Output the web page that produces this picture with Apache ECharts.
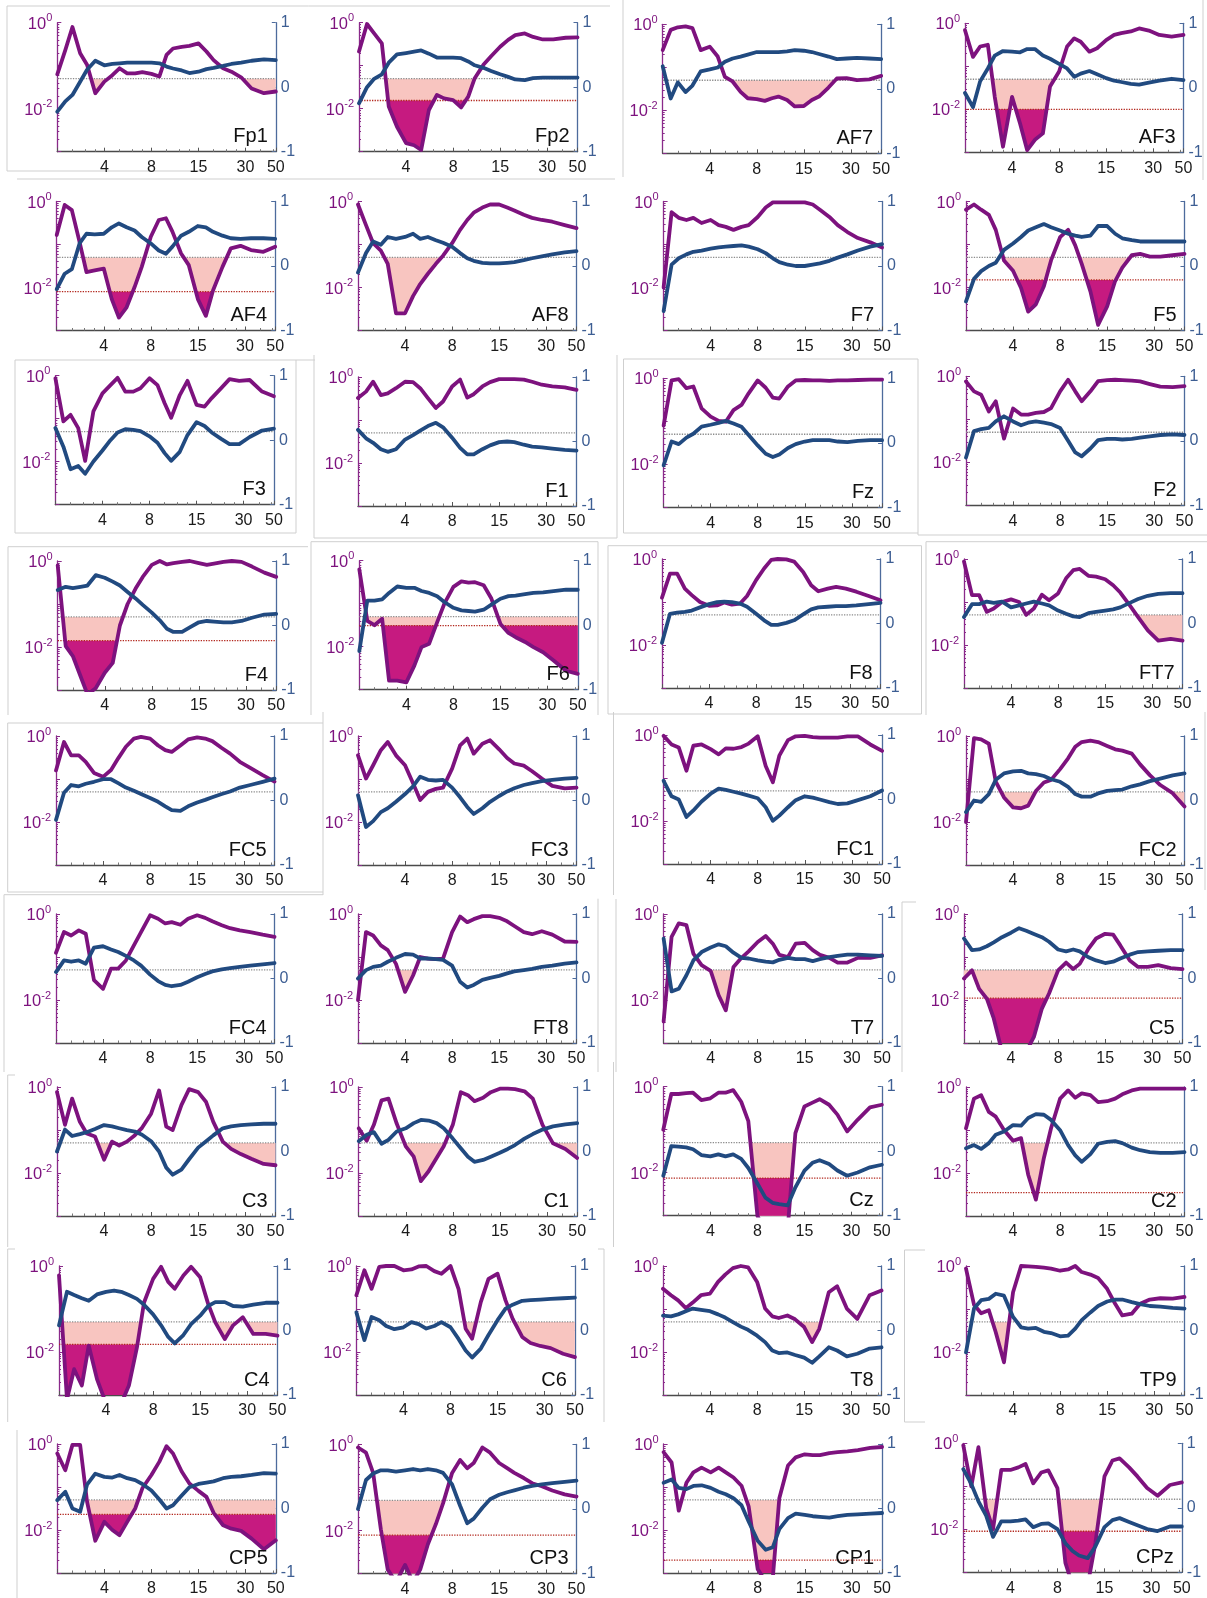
<!DOCTYPE html>
<html><head><meta charset="utf-8">
<script src="https://cdn.jsdelivr.net/npm/echarts@6/dist/echarts.min.js"></script>
<style>html,body{margin:0;padding:0;background:#fff}#c{width:1207px;height:1598px}</style>
</head><body><div id="c"></div>
<script>
// ---------------- DATA ----------------
const freqHz = [2,2.25,2.5,2.8,3.1,3.5,4,4.5,5,5.6,6.3,7,8,9,10,11,12.5,14,16,18,20,23,26,30,35,42,50];
const xTickLabels = {4:'4', 8:'8', 16:'15', 32:'30', 50:'50'};
const channels = ['Fp1','Fp2','AF7','AF3','AF4','AF8','F7','F5','F3','F1','Fz','F2','F4','F6','F8','FT7',
  'FC5','FC3','FC1','FC2','FC4','FT8','T7','C5','C3','C1','Cz','C2','C4','C6','T8','TP9','CP5','CP3','CP1','CPz'];
const sigP = 0.05;
// corrected thresholds (red dotted), null where none
const fdrP = [null,0.0155,null,0.01, 0.008,null,null,0.015, null,null,null,null, 0.014,0.031,null,null,
  null,null,null,null, null,null,null,0.011, null,null,0.0075,0.0035, 0.015,null,null,null, 0.023,0.0078,0.002,0.009];
// frequency band where significant regions are shaded (null = no shading)
const shadeBand = [[2,50],[2,50],[2,50],[2,50], [2,50],[2,50],null,[2,50], null,[2,50],[2,50],null, [2,50],[2,50],[2,50],[15,50],
  [2,50],null,[2,50],[2.5,50], null,[2.5,50],[2.5,50],[2,50], [2,50],[3,50],[2,50],[2,50], [2,50],[2,50],[2,50],[2,50], [2,50],[2,50],[2,50],[2,50]];

// log10(p) per channel (purple) and correlation r (blue)
const lp_Fp1 = [-1.2,-0.64,-0.1,-0.71,-0.98,-1.64,-1.37,-1.22,-1.06,-1.18,-1.18,-1.15,-1.19,-1.25,-0.75,-0.6,-0.56,-0.54,-0.48,-0.67,-0.87,-1.06,-1.14,-1.27,-1.53,-1.64,-1.6];
const r_Fp1  = [-0.38,-0.22,-0.12,0.085,0.27,0.41,0.34,0.36,0.37,0.38,0.38,0.38,0.38,0.37,0.32,0.29,0.26,0.22,0.24,0.28,0.3,0.33,0.36,0.38,0.41,0.43,0.42];
const lp_Fp2 = [-0.67,-0.03,-0.25,-0.48,-1.95,-2.42,-2.8,-2.85,-2.96,-2.03,-1.68,-1.76,-1.8,-1.97,-1.72,-1.29,-0.98,-0.78,-0.56,-0.4,-0.29,-0.25,-0.33,-0.39,-0.39,-0.35,-0.34];
const r_Fp2  = [-0.25,0.0,0.13,0.2,0.38,0.51,0.53,0.55,0.57,0.52,0.46,0.46,0.46,0.45,0.4,0.34,0.3,0.25,0.2,0.16,0.12,0.11,0.14,0.15,0.15,0.15,0.15];
const lp_AF7 = [-0.6,-0.13,-0.07,-0.05,-0.09,-0.6,-0.52,-0.75,-1.22,-1.33,-1.57,-1.72,-1.74,-1.78,-1.72,-1.68,-1.76,-1.91,-1.9,-1.76,-1.68,-1.47,-1.26,-1.25,-1.3,-1.28,-1.2];
const r_AF7  = [0.35,-0.15,0.1,-0.05,0.05,0.27,0.3,0.33,0.42,0.47,0.5,0.53,0.57,0.57,0.57,0.57,0.58,0.6,0.59,0.57,0.54,0.5,0.46,0.47,0.48,0.47,0.46];
const lp_AF3 = [-0.16,-0.78,-0.54,-0.5,-1.71,-2.87,-1.71,-2.33,-2.95,-2.71,-2.56,-1.47,-1.12,-0.54,-0.35,-0.43,-0.66,-0.58,-0.39,-0.27,-0.23,-0.19,-0.12,-0.17,-0.27,-0.31,-0.27];
const r_AF3  = [-0.08,-0.3,0.1,0.3,0.5,0.57,0.56,0.55,0.6,0.6,0.5,0.45,0.37,0.3,0.17,0.22,0.26,0.21,0.15,0.11,0.09,0.06,0.05,0.08,0.11,0.14,0.12];
const lp_AF4 = [-0.78,-0.08,-0.2,-0.94,-1.64,-1.6,-1.56,-2.27,-2.7,-2.46,-1.99,-1.52,-0.82,-0.43,-0.39,-0.7,-1.21,-1.48,-2.27,-2.66,-2.07,-1.52,-1.09,-1.03,-1.13,-1.17,-1.05];
const r_AF4  = [-0.36,-0.12,-0.05,0.35,0.5,0.49,0.5,0.6,0.66,0.6,0.55,0.45,0.35,0.24,0.19,0.3,0.47,0.53,0.62,0.6,0.53,0.47,0.43,0.42,0.43,0.43,0.42];
const lp_AF8 = [-0.07,-0.55,-0.97,-1.14,-1.45,-2.6,-2.6,-2.2,-1.92,-1.68,-1.45,-1.26,-0.97,-0.66,-0.43,-0.26,-0.14,-0.07,-0.07,-0.14,-0.21,-0.31,-0.38,-0.43,-0.47,-0.55,-0.62];
const r_AF8  = [-0.1,0.2,0.38,0.33,0.45,0.42,0.45,0.5,0.42,0.45,0.4,0.36,0.3,0.2,0.12,0.08,0.05,0.04,0.04,0.05,0.06,0.09,0.12,0.15,0.18,0.21,0.23];
const lp_F7  = [-2.0,-0.25,-0.38,-0.43,-0.38,-0.5,-0.43,-0.55,-0.59,-0.66,-0.59,-0.55,-0.36,-0.14,-0.02,-0.02,-0.02,-0.02,-0.02,-0.07,-0.19,-0.36,-0.55,-0.71,-0.85,-0.95,-1.07];
const r_F7   = [-0.7,0.02,0.12,0.18,0.22,0.24,0.27,0.29,0.3,0.31,0.32,0.3,0.26,0.2,0.12,0.06,0.02,0.0,0.0,0.02,0.04,0.08,0.13,0.18,0.24,0.3,0.34];
const lp_F5  = [-0.19,-0.07,-0.19,-0.31,-0.66,-1.37,-1.61,-2.01,-2.56,-2.39,-1.97,-1.37,-0.83,-0.66,-1.02,-1.45,-2.09,-2.87,-2.44,-1.85,-1.54,-1.25,-1.22,-1.28,-1.28,-1.25,-1.22];
const r_F5   = [-0.55,-0.2,-0.08,0.0,0.05,0.25,0.35,0.45,0.55,0.6,0.65,0.6,0.55,0.5,0.47,0.45,0.47,0.62,0.62,0.5,0.43,0.4,0.38,0.38,0.38,0.38,0.38];
const lp_F3  = [-0.06,-1.06,-0.91,-1.22,-1.98,-0.83,-0.41,-0.22,-0.05,-0.37,-0.37,-0.29,-0.06,-0.22,-0.64,-0.98,-0.45,-0.12,-0.68,-0.72,-0.52,-0.29,-0.08,-0.12,-0.1,-0.37,-0.48];
const r_F3   = [0.19,-0.1,-0.45,-0.4,-0.52,-0.33,-0.16,0.0,0.12,0.17,0.16,0.14,0.06,-0.04,-0.2,-0.32,-0.18,0.08,0.28,0.22,0.12,0.02,-0.06,-0.06,0.05,0.15,0.18];
const lp_F1  = [-0.49,-0.34,-0.11,-0.42,-0.38,-0.26,-0.11,-0.12,-0.26,-0.49,-0.72,-0.57,-0.22,-0.06,-0.48,-0.4,-0.22,-0.12,-0.05,-0.05,-0.05,-0.06,-0.11,-0.18,-0.22,-0.24,-0.3];
const r_F1   = [0.18,0.05,-0.02,-0.12,-0.16,-0.12,0.03,0.1,0.17,0.24,0.29,0.22,0.06,-0.1,-0.2,-0.2,-0.12,-0.06,-0.01,0.0,-0.01,-0.05,-0.08,-0.09,-0.11,-0.13,-0.14];
const lp_Fz  = [-1.1,-0.05,-0.02,-0.23,-0.19,-0.7,-0.89,-0.99,-1.01,-0.74,-0.62,-0.35,-0.05,-0.22,-0.45,-0.47,-0.19,-0.05,-0.04,-0.05,-0.05,-0.06,-0.05,-0.05,-0.04,-0.03,-0.03];
const r_Fz   = [-0.35,0.02,-0.02,0.08,0.14,0.25,0.28,0.31,0.34,0.3,0.25,0.12,-0.04,-0.17,-0.22,-0.18,-0.08,-0.02,0.02,0.04,0.04,0.04,0.02,0.01,0.03,0.04,0.04];
const lp_F2  = [-0.12,-0.35,-0.43,-0.82,-0.58,-1.45,-0.75,-0.89,-0.89,-0.85,-0.83,-0.74,-0.35,-0.08,-0.35,-0.58,-0.35,-0.11,-0.09,-0.08,-0.09,-0.1,-0.12,-0.18,-0.24,-0.25,-0.23];
const r_F2   = [-0.26,0.15,0.18,0.2,0.3,0.38,0.3,0.24,0.28,0.3,0.28,0.26,0.2,0.0,-0.18,-0.24,-0.12,0.01,0.03,0.03,0.02,0.03,0.05,0.07,0.09,0.1,0.09];
const lp_F4  = [-0.1,-1.98,-2.21,-2.68,-3.1,-2.96,-2.6,-2.37,-1.5,-1.0,-0.64,-0.37,-0.09,0.0,-0.08,-0.05,-0.02,0.0,-0.05,-0.09,-0.06,-0.02,0.0,-0.02,-0.13,-0.27,-0.37];
const r_F4   = [0.55,0.6,0.58,0.6,0.62,0.78,0.74,0.68,0.62,0.52,0.42,0.32,0.2,0.08,-0.05,-0.1,-0.1,-0.03,0.05,0.07,0.06,0.05,0.05,0.07,0.12,0.17,0.18];
const lp_F6  = [-0.2,-1.4,-1.5,-1.35,-2.79,-2.79,-2.83,-2.44,-2.01,-1.93,-1.43,-1.0,-0.61,-0.48,-0.51,-0.5,-0.57,-0.88,-1.47,-1.68,-1.78,-1.89,-2.01,-2.13,-2.32,-2.56,-2.63];
const r_F6   = [-0.4,0.38,0.38,0.4,0.5,0.6,0.58,0.58,0.53,0.5,0.45,0.36,0.27,0.23,0.22,0.21,0.24,0.32,0.41,0.45,0.46,0.48,0.5,0.51,0.53,0.55,0.55];
const lp_F8  = [-0.9,-0.34,-0.34,-0.69,-0.84,-1.0,-1.09,-1.08,-1.01,-1.06,-1.04,-0.86,-0.49,-0.22,-0.02,0.0,-0.01,-0.06,-0.3,-0.61,-0.75,-0.69,-0.65,-0.69,-0.76,-0.86,-0.96];
const r_F8   = [-0.3,0.15,0.17,0.18,0.2,0.25,0.3,0.33,0.34,0.33,0.31,0.26,0.15,0.05,-0.02,-0.02,0.01,0.05,0.14,0.22,0.25,0.26,0.27,0.27,0.28,0.3,0.32];
const lp_FT7 = [-0.06,-0.84,-0.84,-1.23,-1.15,-1.0,-0.94,-1.0,-1.3,-1.15,-0.83,-0.96,-0.8,-0.45,-0.26,-0.23,-0.39,-0.41,-0.47,-0.61,-0.78,-1.08,-1.35,-1.66,-1.9,-1.86,-1.9];
const r_FT7  = [0.1,0.3,0.3,0.34,0.32,0.34,0.25,0.28,0.31,0.34,0.31,0.28,0.2,0.15,0.11,0.1,0.16,0.18,0.2,0.22,0.25,0.32,0.38,0.43,0.46,0.47,0.47];
const lp_FC5 = [-0.8,-0.14,-0.45,-0.45,-0.6,-0.86,-0.95,-0.79,-0.52,-0.25,-0.06,-0.02,-0.06,-0.22,-0.33,-0.37,-0.22,-0.08,-0.03,-0.06,-0.12,-0.28,-0.41,-0.6,-0.74,-0.91,-1.06];
const r_FC5  = [-0.3,0.12,0.24,0.22,0.26,0.29,0.33,0.33,0.27,0.2,0.15,0.1,0.04,-0.02,-0.09,-0.15,-0.16,-0.09,-0.03,0.01,0.05,0.1,0.14,0.2,0.24,0.29,0.34];
const lp_FC3 = [-0.45,-0.99,-0.68,-0.33,-0.14,-0.45,-0.68,-1.1,-1.49,-1.3,-1.23,-1.2,-0.76,-0.22,-0.06,-0.41,-0.18,-0.1,-0.31,-0.51,-0.64,-0.69,-0.82,-0.99,-1.16,-1.22,-1.2];
const r_FC3  = [0.08,-0.41,-0.32,-0.18,-0.12,-0.02,0.1,0.22,0.37,0.32,0.31,0.32,0.2,0.05,-0.1,-0.21,-0.12,-0.02,0.07,0.14,0.19,0.24,0.27,0.3,0.32,0.34,0.35];
const lp_FC1 = [-0.02,-0.22,-0.29,-0.83,-0.25,-0.22,-0.33,-0.45,-0.31,-0.32,-0.28,-0.2,-0.03,-0.72,-1.1,-0.48,-0.12,-0.03,-0.02,-0.05,-0.06,-0.06,-0.06,-0.03,-0.03,-0.22,-0.37];
const r_FC1  = [0.29,0.05,0.0,-0.27,-0.17,-0.03,0.09,0.17,0.15,0.12,0.09,0.06,0.02,-0.12,-0.33,-0.25,-0.12,-0.01,0.05,0.03,0.0,-0.04,-0.07,-0.06,-0.01,0.05,0.14];
const lp_FC2 = [-2.0,-0.05,-0.08,-0.18,-1.06,-1.43,-1.66,-1.68,-1.62,-1.28,-1.08,-1.02,-0.77,-0.52,-0.25,-0.14,-0.11,-0.14,-0.23,-0.31,-0.34,-0.41,-0.66,-0.91,-1.14,-1.33,-1.64];
const r_FC2  = [-0.18,0.0,-0.02,0.1,0.32,0.42,0.45,0.46,0.42,0.41,0.38,0.33,0.29,0.21,0.1,0.06,0.06,0.11,0.15,0.16,0.17,0.22,0.25,0.3,0.34,0.39,0.42];
const lp_FC4 = [-0.9,-0.42,-0.5,-0.38,-0.46,-1.54,-1.74,-1.27,-1.27,-1.08,-0.73,-0.42,-0.03,-0.11,-0.22,-0.19,-0.25,-0.11,-0.03,-0.09,-0.17,-0.26,-0.33,-0.38,-0.42,-0.48,-0.53];
const r_FC4  = [0.1,0.28,0.26,0.28,0.23,0.48,0.5,0.45,0.41,0.35,0.28,0.2,0.06,-0.04,-0.1,-0.12,-0.1,-0.05,0.02,0.07,0.11,0.14,0.16,0.18,0.2,0.22,0.24];
const lp_FT8 = [-2.0,-0.42,-0.5,-0.73,-0.84,-1.16,-1.81,-1.43,-1.0,-1.04,-1.05,-1.04,-0.42,-0.06,-0.19,-0.12,-0.05,-0.05,-0.09,-0.17,-0.28,-0.42,-0.47,-0.4,-0.48,-0.64,-0.65];
const r_FT8  = [0.0,0.13,0.18,0.2,0.26,0.32,0.38,0.37,0.31,0.31,0.3,0.29,0.2,-0.05,-0.14,-0.1,-0.02,0.01,0.04,0.08,0.11,0.13,0.15,0.18,0.2,0.23,0.25];
const lp_T7  = [-2.5,-0.53,-0.22,-0.26,-0.92,-1.19,-1.32,-1.89,-2.24,-1.23,-1.02,-0.87,-0.65,-0.51,-0.69,-0.95,-1.0,-0.69,-0.67,-0.84,-0.95,-1.02,-1.13,-1.13,-1.02,-1.02,-0.96];
const r_T7   = [0.62,-0.2,-0.16,0.05,0.28,0.41,0.48,0.53,0.5,0.4,0.32,0.31,0.28,0.26,0.25,0.29,0.32,0.3,0.3,0.27,0.3,0.33,0.35,0.37,0.37,0.36,0.35];
const lp_C5  = [-1.5,-1.31,-1.74,-1.97,-2.43,-3.2,-3.2,-3.2,-3.2,-2.86,-2.2,-1.85,-1.31,-1.13,-1.28,-1.16,-0.81,-0.57,-0.46,-0.48,-0.73,-1.08,-1.23,-1.23,-1.19,-1.26,-1.28];
const r_C5   = [0.62,0.44,0.45,0.5,0.56,0.64,0.71,0.78,0.74,0.69,0.64,0.57,0.45,0.42,0.45,0.42,0.33,0.28,0.24,0.26,0.31,0.37,0.41,0.42,0.43,0.44,0.44];
const lp_C3  = [-0.12,-0.88,-0.27,-0.81,-1.08,-1.15,-1.69,-1.27,-1.36,-1.27,-1.12,-0.95,-0.62,-0.08,-0.92,-1.0,-0.42,-0.05,-0.12,-0.35,-0.81,-1.27,-1.44,-1.56,-1.67,-1.79,-1.82];
const r_C3   = [0.0,0.34,0.24,0.27,0.3,0.35,0.41,0.39,0.36,0.33,0.31,0.26,0.16,0.0,-0.25,-0.36,-0.28,-0.12,0.06,0.16,0.25,0.36,0.39,0.41,0.42,0.43,0.43];
const lp_C1  = [-0.96,-1.25,-0.88,-0.31,-0.27,-0.85,-1.38,-1.62,-2.19,-1.96,-1.65,-1.38,-0.88,-0.12,-0.19,-0.33,-0.25,-0.12,-0.04,-0.04,-0.05,-0.1,-0.27,-0.88,-1.31,-1.44,-1.65];
const r_C1   = [0.16,0.26,0.3,0.12,0.18,0.31,0.36,0.44,0.49,0.48,0.44,0.36,0.2,0.05,-0.08,-0.16,-0.13,-0.08,-0.02,0.04,0.1,0.2,0.27,0.34,0.39,0.42,0.44];
const lp_Cz  = [-1.0,-0.17,-0.17,-0.15,-0.14,-0.31,-0.27,-0.14,-0.14,-0.08,-0.35,-0.8,-3.0,-3.4,-3.4,-3.4,-3.3,-1.08,-0.46,-0.37,-0.29,-0.42,-0.65,-1.04,-0.77,-0.48,-0.42];
const r_Cz   = [-0.38,0.08,0.07,0.06,0.03,-0.06,-0.08,-0.05,-0.08,-0.05,-0.12,-0.26,-0.5,-0.72,-0.8,-0.82,-0.84,-0.56,-0.3,-0.18,-0.14,-0.2,-0.3,-0.38,-0.33,-0.25,-0.21];
const lp_C2  = [-0.96,-0.27,-0.19,-0.58,-0.69,-1.0,-1.25,-1.19,-2.04,-2.62,-1.65,-0.96,-0.27,-0.08,-0.25,-0.15,-0.19,-0.35,-0.33,-0.27,-0.17,-0.08,-0.04,-0.04,-0.04,-0.04,-0.04];
const r_C2   = [0.05,0.1,0.04,0.13,0.26,0.31,0.41,0.4,0.52,0.58,0.57,0.49,0.33,0.1,-0.06,-0.16,-0.04,0.12,0.15,0.16,0.13,0.06,0.02,-0.01,-0.02,-0.02,-0.01];
const lp_C4  = [-0.22,-3.1,-2.4,-2.78,-1.85,-2.63,-3.2,-3.2,-3.2,-2.78,-1.9,-0.85,-0.3,-0.02,-0.37,-0.53,-0.22,-0.02,-0.26,-0.88,-1.31,-1.7,-1.38,-1.19,-1.58,-1.58,-1.62];
const r_C4   = [0.08,0.6,0.55,0.5,0.46,0.56,0.6,0.62,0.6,0.55,0.49,0.4,0.25,0.08,-0.1,-0.2,-0.07,0.1,0.23,0.38,0.44,0.44,0.38,0.37,0.4,0.43,0.43];
const lp_C6  = [-0.68,-0.1,-0.53,-0.02,0.0,0.0,-0.1,-0.08,-0.01,0.0,-0.12,-0.18,0.0,-0.53,-1.46,-1.69,-0.84,-0.3,-0.18,-0.8,-1.23,-1.65,-1.79,-1.86,-1.91,-2.04,-2.12];
const r_C6   = [0.28,-0.15,0.21,0.16,0.07,0.02,0.05,0.13,0.1,0.03,0.07,0.13,0.05,-0.13,-0.31,-0.42,-0.28,-0.07,0.16,0.34,0.4,0.46,0.47,0.48,0.49,0.5,0.51];
const lp_T8  = [-0.53,-0.68,-0.8,-0.98,-0.85,-0.68,-0.64,-0.37,-0.2,-0.05,0.0,-0.03,-0.37,-0.99,-1.17,-1.21,-1.15,-1.24,-1.42,-1.77,-1.46,-0.61,-0.47,-0.99,-1.23,-0.68,-0.57];
const r_T8   = [0.23,0.22,0.25,0.3,0.34,0.32,0.3,0.25,0.2,0.13,0.06,0.01,-0.08,-0.18,-0.31,-0.35,-0.34,-0.38,-0.42,-0.5,-0.4,-0.26,-0.31,-0.4,-0.36,-0.28,-0.26];
const lp_TP9 = [-0.06,-0.9,-1.1,-1.03,-1.54,-2.24,-0.61,0.0,-0.01,-0.02,-0.04,-0.06,-0.11,-0.08,0.0,-0.14,-0.2,-0.28,-0.53,-0.88,-1.15,-1.11,-0.88,-0.78,-0.75,-0.76,-0.72];
const r_TP9  = [-0.34,0.34,0.47,0.49,0.57,0.54,0.21,0.05,0.03,0.04,-0.02,-0.04,-0.09,-0.08,0.03,0.16,0.28,0.38,0.45,0.48,0.48,0.44,0.41,0.38,0.37,0.35,0.34];
const lp_CP5 = [-0.22,-0.61,-0.02,-0.02,-1.34,-2.25,-1.81,-2.0,-2.12,-1.81,-1.5,-1.03,-0.72,-0.41,-0.05,-0.22,-0.64,-0.92,-1.09,-1.23,-1.6,-1.89,-1.97,-2.02,-2.2,-2.45,-2.24];
const r_CP5  = [0.13,0.26,0.0,-0.05,0.37,0.54,0.49,0.48,0.52,0.47,0.44,0.38,0.28,0.14,0.0,0.05,0.2,0.33,0.38,0.4,0.42,0.47,0.49,0.5,0.52,0.55,0.54];
const lp_CP3 = [-0.07,-0.19,-0.66,-1.97,-2.91,-3.2,-2.8,-3.2,-2.91,-2.32,-1.85,-1.37,-0.66,-0.36,-0.55,-0.43,-0.07,-0.19,-0.43,-0.55,-0.66,-0.78,-0.9,-0.97,-1.07,-1.16,-1.21];
const r_CP3  = [0.0,0.45,0.55,0.6,0.6,0.58,0.6,0.62,0.6,0.62,0.6,0.56,0.38,0.05,-0.22,-0.15,0.02,0.15,0.22,0.26,0.29,0.33,0.36,0.38,0.4,0.42,0.44];
const lp_CP1 = [-0.19,-0.43,-1.55,-0.9,-0.66,-0.55,-0.66,-0.55,-0.66,-0.78,-0.97,-1.45,-2.91,-3.2,-3.1,-1.26,-0.5,-0.31,-0.24,-0.26,-0.26,-0.21,-0.19,-0.17,-0.14,-0.09,-0.07];
const r_CP1  = [0.4,0.45,0.32,0.3,0.35,0.36,0.32,0.26,0.22,0.16,0.05,-0.2,-0.5,-0.64,-0.6,-0.32,-0.15,-0.08,-0.1,-0.12,-0.13,-0.14,-0.12,-0.1,-0.09,-0.08,-0.07];
const lp_CPz = [-0.05,-1.0,-0.09,-1.5,-2.0,-0.62,-0.62,-0.56,-0.48,-0.93,-0.68,-0.63,-1.04,-2.78,-3.3,-3.3,-3.3,-2.32,-0.77,-0.4,-0.35,-0.56,-0.77,-1.04,-1.22,-0.97,-0.91];
const r_CPz  = [0.6,0.37,0.1,-0.12,-0.45,-0.21,-0.21,-0.2,-0.18,-0.3,-0.25,-0.24,-0.33,-0.55,-0.67,-0.74,-0.78,-0.6,-0.3,-0.19,-0.16,-0.22,-0.27,-0.33,-0.36,-0.29,-0.29];

const logPList = [lp_Fp1,lp_Fp2,lp_AF7,lp_AF3,lp_AF4,lp_AF8,lp_F7,lp_F5,lp_F3,lp_F1,lp_Fz,lp_F2,lp_F4,lp_F6,lp_F8,lp_FT7,
  lp_FC5,lp_FC3,lp_FC1,lp_FC2,lp_FC4,lp_FT8,lp_T7,lp_C5,lp_C3,lp_C1,lp_Cz,lp_C2,lp_C4,lp_C6,lp_T8,lp_TP9,lp_CP5,lp_CP3,lp_CP1,lp_CPz];
const corrList = [r_Fp1,r_Fp2,r_AF7,r_AF3,r_AF4,r_AF8,r_F7,r_F5,r_F3,r_F1,r_Fz,r_F2,r_F4,r_F6,r_F8,r_FT7,
  r_FC5,r_FC3,r_FC1,r_FC2,r_FC4,r_FT8,r_T7,r_C5,r_C3,r_C1,r_Cz,r_C2,r_C4,r_C6,r_T8,r_TP9,r_CP5,r_CP3,r_CP1,r_CPz];

// ---------------- LAYOUT ----------------
const panelLeft = [57.3,359,662.7,965, 56.7,358,663.6,966, 55.4,358,663.6,966, 57.7,359.3,662,964,
  56,358,663.6,966, 56,358,663.6,964, 57,358.7,663.3,966, 59,356.4,663,966, 57.3,358,663.6,963.3];
const panelTop = [22.7,22.7,24.3,23.3, 201.5,201.5,201.5,201.5, 375.7,377,378.3,376.3, 561,560.7,559,559,
  736,736,735,736, 914,914,914,914, 1087,1087,1086.7,1087, 1266,1266,1266,1266, 1444,1444.5,1444,1443.3];
const PW = 218.5, PH = 129;
const frameLines = [
  [7,6,610,6],[7,6,7,171],[7,171,203,171],[17,179,615,179],[623,0,623,177],[1203,0,1203,180],
  [15,360,315,360],[15,360,15,533],[15,533,296,533],[296,360,296,533],
  [314,355,314,538],[314,538,617,538],[617,355,617,538],
  [623.5,359,918,359],[623.5,359,623.5,533],[918,359,918,535],[623.5,533,918,533],[918,535,1207,535],
  [8,546.7,308,546.7],[8,546.7,8,715],[311,541.7,598,541.7],[311,541.7,311,715],[598,541.7,598,715],
  [608,545.7,921.5,545.7],[608,545.7,608,714],[921.5,545.7,921.5,714],[608,714,921.5,714],
  [926,541.7,1207,541.7],[926,541.7,926,715],
  [7.7,723,323,723],[7.7,723,7.7,892],[7.7,892,323,892],[323,712,323,895],
  [613.5,712,613.5,895],[1205,712,1205,890],
  [4,894.7,323,894.7],[4,894.7,4,1072],[598,898.7,598,1072],[616,899,616,1072],[902,902,902,1072],[902,902,916,902],
  [7.7,1075,7.7,1247],[7.7,1075,15,1075],[613.5,1062,613.5,1247],
  [7.7,1249,7.7,1422],[7.7,1249,15,1249],[604,1249,604,1422],[598,1249,604,1249],
  [904.5,1250,904.5,1422],[904.5,1250,925,1250],[904.5,1422,925,1422],
  [17,1430,17,1598]
];

// ---------------- STYLE ----------------
const FONT = "'Liberation Sans', Arial, Helvetica, sans-serif";
const PURPLE = '#7d127e', PURPLE_AX = '#8a2a8a', BLUE = '#214a80', BLUE_AX = '#4d6b9c';
const PINK = '#f8c5c0', MAGENTA = '#c61a80';

function clipHalf(poly, inside, cross) {
  const out = [];
  for (let i = 0; i < poly.length; i++) {
    const a = poly[i], b = poly[(i + 1) % poly.length];
    const ia = inside(a), ib = inside(b);
    if (ia) out.push(a);
    if (ia !== ib) out.push(cross(a, b));
  }
  return out;
}
const atY = y => (a, b) => { const t = (y - a[1]) / (b[1] - a[1]); return [a[0] + t * (b[0] - a[0]), y]; };
const atX = x => (a, b) => { const t = (x - a[0]) / (b[0] - a[0]); return [x, a[1] + t * (b[1] - a[1])]; };

function makeFill(pData, fdr, band) {
  return function (params, api) {
    if (params.dataIndex !== 0) return null;
    const cs = params.coordSys;
    const left = cs.x, right = cs.x + cs.width, bottom = cs.y + cs.height;
    const pts = pData.map(d => api.coord(d));
    const children = [];
    function region(thr, color) {
      const yT = api.coord([freqHz[0], thr])[1];
      let poly = [[pts[0][0], yT]].concat(pts, [[pts[pts.length - 1][0], yT]]);
      poly = clipHalf(poly, p => p[1] >= yT, atY(yT));
      poly = clipHalf(poly, p => p[1] <= bottom, atY(bottom));
      const xl = api.coord([band[0], thr])[0], xr = api.coord([band[1], thr])[0];
      poly = clipHalf(poly, p => p[0] >= xl, atX(xl));
      poly = clipHalf(poly, p => p[0] <= xr, atX(xr));
      if (poly.length >= 3) children.push({ type: 'polygon', shape: { points: poly }, style: { fill: color } });
    }
    if (band) { region(sigP, PINK); if (fdr) region(fdr, MAGENTA); }
    const y05 = api.coord([freqHz[0], sigP])[1];
    children.push({ type: 'line', shape: { x1: left, y1: y05, x2: right, y2: y05 },
      style: { stroke: '#8c8c8c', lineWidth: 1.3, lineDash: [1.3, 1.3] } });
    if (fdr) {
      const yr = api.coord([freqHz[0], fdr])[1];
      children.push({ type: 'line', shape: { x1: left, y1: yr, x2: right, y2: yr },
        style: { stroke: '#b2261c', lineWidth: 1.3, lineDash: [1.3, 1.3] } });
    }
    return { type: 'group', children };
  };
}

const grids = [], xAxes = [], yAxes = [], series = [], graphics = [];
channels.forEach((ch, i) => {
  const L = panelLeft[i], T = panelTop[i];
  grids.push({ left: L, top: T, width: PW, height: PH, outerBoundsMode: 'none', containLabel: false });
  xAxes.push({
    gridIndex: i, type: 'log', logBase: 2, min: 2, max: 50,
    axisLine: { show: true, onZero: false, lineStyle: { color: '#4a4a4a', width: 1.4 } },
    axisTick: { show: true, inside: true, length: 4, lineStyle: { color: '#555', width: 1 } },
    minorTick: { show: true, splitNumber: 4, length: 2.5, lineStyle: { color: '#777', width: 1 } },
    axisLabel: { show: true, color: '#1a1a1a', fontSize: 16, fontFamily: FONT, margin: 8,
      showMinLabel: true, showMaxLabel: true, hideOverlap: false,
      formatter: v => xTickLabels[Math.round(v)] || '' },
    splitLine: { show: false }, minorSplitLine: { show: false }
  });
  yAxes.push({
    gridIndex: i, type: 'log', logBase: 10, min: 0.001, max: 1, position: 'left',
    axisLine: { show: true, onZero: false, lineStyle: { color: PURPLE_AX, width: 1.3 } },
    axisTick: { show: true, inside: true, length: 4, lineStyle: { color: PURPLE_AX, width: 1 } },
    minorTick: { show: true, splitNumber: 9, length: 2, lineStyle: { color: PURPLE_AX, width: 1 } },
    axisLabel: { show: true, margin: 5, hideOverlap: false, showMinLabel: true, showMaxLabel: true,
      formatter: v => { const e = Math.round(Math.log10(v)); return (e === 0 || e === -2) ? '{b|10}{s|' + e + '}' : ''; },
      rich: {
        b: { fontSize: 16.5, fontFamily: FONT, color: PURPLE, verticalAlign: 'bottom', padding: [3, 0, 0, 0] },
        s: { fontSize: 11, fontFamily: FONT, color: PURPLE, verticalAlign: 'top' }
      } },
    splitLine: { show: false }, minorSplitLine: { show: false }
  });
  yAxes.push({
    gridIndex: i, type: 'value', min: -1, max: 1, interval: 1, position: 'right',
    axisLine: { show: true, onZero: false, lineStyle: { color: BLUE_AX, width: 1.3 } },
    axisTick: { show: true, inside: true, length: 4, lineStyle: { color: BLUE_AX, width: 1 } },
    axisLabel: { show: true, color: '#3d5e93', fontSize: 16, fontFamily: FONT, margin: 5,
      showMinLabel: true, showMaxLabel: true, hideOverlap: false, formatter: v => String(v) },
    splitLine: { show: false }
  });
  const lp = logPList[i], rr = corrList[i];
  const pData = freqHz.map((f, k) => [f, Math.pow(10, lp[k])]);
  const rData = freqHz.map((f, k) => [f, rr[k]]);
  series.push({ type: 'custom', xAxisIndex: i, yAxisIndex: 2 * i, data: [[2, 1]], silent: true, z: 1,
    renderItem: makeFill(pData, fdrP[i], shadeBand[i]) });
  series.push({ type: 'line', xAxisIndex: i, yAxisIndex: 2 * i, data: pData, symbol: 'none', silent: true, z: 3, clip: true,
    lineStyle: { color: PURPLE, width: 3.8, join: 'round', cap: 'round' } });
  series.push({ type: 'line', xAxisIndex: i, yAxisIndex: 2 * i + 1, data: rData, symbol: 'none', silent: true, z: 4, clip: true,
    lineStyle: { color: BLUE, width: 3.8, join: 'round', cap: 'round' } });
  graphics.push({ type: 'text', x: L + PW - 8, y: T + PH - 5, z: 10, silent: true,
    style: { text: ch, font: '20px ' + FONT, fill: '#111', textAlign: 'right', textVerticalAlign: 'bottom', align: 'right', verticalAlign: 'bottom' } });
});
frameLines.forEach(s => graphics.push({ type: 'line', silent: true, z: -1,
  shape: { x1: s[0], y1: s[1], x2: s[2], y2: s[3] }, style: { stroke: '#cfcfcf', lineWidth: 1 } }));

const chart = echarts.init(document.getElementById('c'), null, { renderer: 'canvas', width: 1207, height: 1598 });
chart.setOption({
  animation: false, backgroundColor: '#fff',
  textStyle: { fontFamily: FONT },
  grid: grids, xAxis: xAxes, yAxis: yAxes, series: series, graphic: graphics
});
</script></body></html>
